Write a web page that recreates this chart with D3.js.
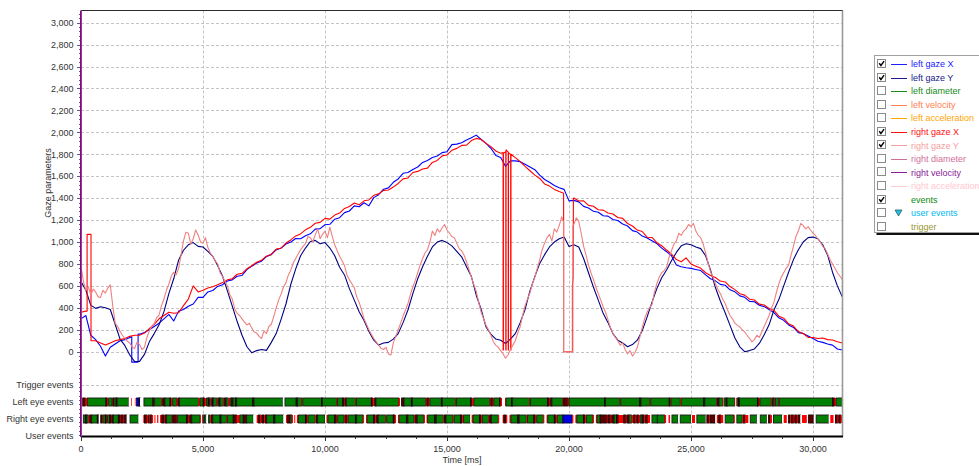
<!DOCTYPE html>
<html><head><meta charset="utf-8">
<script src="https://cdn.jsdelivr.net/npm/d3@7"></script>
<style>
body{margin:0;background:#fff;}
svg{display:block;}
text{font-family:"Liberation Sans",Arial,sans-serif;}
</style>
</head><body>
<svg id="c" width="979" height="466"></svg>
<script>
// ---------------- DATA ----------------
const STEP_MS = 200;      // sample spacing of the gaze X / left gaze Y arrays
const STEP_MS_RY = 100;   // sample spacing of the right gaze Y array
const timeMax = 31230;

const leftGazeX = [
 300,330,150,110,50,-40,40,70,100,110,
 130,140,160,175,200,230,260,300,340,280,
 370,385,415,435,495,495,545,558,595,610,
 645,655,688,695,748,780,808,825,868,885,
 928,945,982,1000,1032,1030,1058,1075,1118,1122,
 1158,1162,1208,1222,1268,1283,1330,1322,1358,1330,
 1405,1432,1482,1494,1545,1575,1627,1634,1662,1684,
 1726,1744,1771,1784,1815,1824,1888,1893,1906,1930,
 1950,1975,1935,1900,1855,1790,1770,1690,1740,1740,
 1733,1710,1685,1660,1610,1570,1545,1515,1495,1480,
 1375,1380,1366,1325,1311,1280,1271,1240,1236,1205,
 1196,1164,1146,1104,1091,1054,1036,1012,986,944,
 912,875,790,775,765,760,750,740,700,665,
 646,614,606,564,546,509,496,459,456,424,
 411,384,356,309,286,244,221,174,166,144,
 120,95,85,70,60,25,15
];
const leftGazeY = [
 640,560,425,395,410,400,385,250,115,55,
 -30,-90,-88,-25,90,165,245,365,530,665,
 835,925,975,995,960,955,915,870,785,690,
 555,415,275,150,45,-10,10,20,12,85,
 165,295,435,615,755,875,945,1005,1015,985,
 995,945,875,770,700,575,470,365,285,185,
 105,60,80,85,115,165,265,380,530,665,
 775,870,955,1000,1015,995,965,915,865,775,
 685,515,385,225,160,115,105,75,115,165,
 265,385,555,685,805,885,955,1000,1030,1045,
 960,975,955,850,720,590,470,350,265,165,
 105,80,45,65,105,190,315,450,575,675,
 745,830,905,965,985,975,955,940,875,745,
 585,465,355,240,125,45,0,10,25,75,
 155,245,380,475,600,725,840,930,1000,1040,
 1045,1030,975,880,725,600,500
];
const rightGazeX = [
 360,370,100,100,80,60,80,100,110,120,
 140,150,150,170,210,250,300,330,360,350,
 355,420,480,600,545,560,580,593,610,630,
 655,665,706,714,756,784,816,834,871,889,
 936,944,991,1019,1056,1074,1111,1134,1171,1179,
 1216,1209,1246,1264,1306,1324,1356,1339,1376,1384,
 1426,1439,1471,1474,1501,1534,1576,1584,1634,1644,
 1666,1674,1726,1744,1786,1794,1836,1854,1881,1884,
 1925,1945,1935,1900,1870,1830,1810,1820,1800,1770,
 1733,1690,1650,1610,1580,1530,1510,1480,1460,1440,
 1400,1401,1374,1376,1334,1326,1294,1291,1264,1256,
 1224,1216,1169,1146,1109,1096,1044,1042,994,966,
 927,890,840,820,855,800,780,760,720,695,
 676,644,636,594,566,529,516,479,471,434,
 426,394,376,324,306,254,234,184,166,131,
 130,120,125,110,107,90,80
];
const rightGazeY = [
 780,640,560,590,520,570,545,500,495,560,535,580,610,420,260,230,185,150,120,95,
 80,40,30,90,65,20,40,130,190,230,255,310,335,420,480,560,615,690,725,700,
 760,880,1010,1090,1080,980,1030,1110,1065,1000,990,1040,950,900,870,830,800,720,685,640,
 600,520,480,390,350,330,300,270,245,260,215,180,170,140,120,190,165,230,250,320,
 400,470,525,590,630,700,745,810,850,890,930,960,985,1050,1040,1000,1065,1120,1030,1070,
 1100,1040,1135,1050,975,920,870,830,785,700,655,620,585,500,450,380,300,250,200,160,
 120,90,60,30,20,40,-20,-30,80,140,200,260,325,380,440,520,590,650,720,790,
 850,900,930,1000,1100,1060,1120,1090,1130,1160,1110,1080,1050,1040,990,940,920,880,820,750,
 680,610,550,450,360,300,240,200,150,90,60,40,10,-20,-60,-30,20,60,100,170,
 230,330,420,480,535,620,680,760,840,930,990,1040,1070,1010,1120,1090,1150,1230,1150,1150,
 1000,1100,1160,1220,1190,1080,960,880,790,720,660,590,530,470,410,360,290,220,171,130,
 100,60,80,20,-20,10,-40,-10,40,130,220,300,360,400,430,540,620,680,720,740,
 770,860,920,980,1010,1080,1060,1100,1120,1160,1140,1170,1100,1060,1040,980,900,810,730,680,
 620,570,530,480,440,380,330,300,260,240,227,200,180,150,120,90,110,150,130,180,
 230,280,330,400,450,540,620,680,720,760,790,880,960,1050,1100,1170,1150,1120,1140,1110,
 1080,1060,1030,1000,960,940,890,840,800,760,720,690,660
];
// short excursions with vertical edges: lists of [time ms, value]
const leftGazeXGaps = [[[2080,135],[2080,-95],[2340,-95],[2340,160]]];
const leftGazeYGaps = [];
const rightGazeXGaps = [
 [[250,370],[250,1070],[410,1070],[410,100]],
 [[17300,1815],[17300,15],[17312,15],[17312,1810]],
 [[17410,1830],[17410,15],[17420,15],[17420,1840]],
 [[17510,1820],[17510,15],[17520,15],[17520,1815]],
 [[17610,1800],[17610,15],[17622,15],[17622,1800]],
 [[19780,1445],[19780,0],[20140,0],[20140,600],[20170,680],[20180,1400]]
];
const rightGazeYGaps = [[[19780,1180],[19780,0],[20160,0],[20160,1150]]];

const yTicks = [0,200,400,600,800,1000,1200,1400,1600,1800,2000,2200,2400,2600,2800,3000];
const xTicks = [0,5000,10000,15000,20000,25000,30000];
const eventRows = ["Trigger events","Left eye events","Right eye events","User events"];

// events: [start ms, type]  F fixation, S saccade, B blink, W no data, L lost
const leftEyeEvents = [[70,'B'],[180,'S'],[260,'F'],[1025,'B'],[1080,'S'],[1135,'F'],[1270,'S'],[1310,'B'],[1350,'F'],[1440,'B'],[1480,'F'],[1955,'W'],[2060,'S'],[2090,'W'],[2210,'S'],[2240,'W'],[2280,'L'],[2390,'B'],[2420,'W'],[2580,'F'],[2950,'B'],[2990,'S'],[3020,'F'],[3300,'S'],[3350,'B'],[3440,'F'],[3650,'B'],[3700,'S'],[3760,'F'],[3920,'S'],[3980,'B'],[4030,'F'],[4810,'S'],[4880,'F'],[5010,'B'],[5060,'S'],[5150,'F'],[5220,'B'],[5260,'F'],[5300,'S'],[5340,'F'],[5380,'B'],[5420,'F'],[5560,'S'],[5610,'F'],[5660,'B'],[5700,'F'],[5830,'S'],[5870,'B'],[5950,'F'],[6040,'S'],[6110,'F'],[6180,'B'],[6230,'F'],[6330,'B'],[6380,'F'],[7040,'B'],[7090,'F'],[8270,'W'],[8360,'F'],[8820,'B'],[8870,'F'],[9040,'S'],[9090,'F'],[9860,'B'],[9900,'F'],[10470,'S'],[10510,'F'],[10730,'B'],[10790,'S'],[10830,'B'],[10870,'F'],[11250,'S'],[11290,'F'],[11900,'B'],[11960,'S'],[12040,'B'],[12090,'F'],[13020,'S'],[13080,'W'],[13140,'B'],[13240,'F'],[13540,'B'],[13580,'F'],[14130,'S'],[14180,'B'],[14250,'S'],[14300,'F'],[14770,'B'],[14810,'F'],[15350,'S'],[15390,'F'],[15970,'B'],[16020,'S'],[16100,'F'],[16750,'S'],[16800,'B'],[16870,'S'],[16920,'F'],[17160,'B'],[17200,'S'],[17260,'W'],[17380,'S'],[17420,'F'],[17650,'B'],[17690,'F'],[18380,'S'],[18420,'F'],[19130,'B'],[19180,'S'],[19230,'B'],[19300,'F'],[19740,'S'],[19780,'B'],[19950,'S'],[20000,'F'],[21460,'B'],[21500,'F'],[22080,'S'],[22120,'F'],[22900,'B'],[22950,'F'],[23310,'S'],[23350,'F'],[24110,'B'],[24150,'S'],[24180,'F'],[24560,'S'],[24600,'F'],[25520,'B'],[25570,'F'],[26050,'S'],[26090,'B'],[26150,'F'],[26290,'S'],[26320,'W'],[26350,'F'],[26440,'B'],[26480,'F'],[26790,'S'],[26820,'W'],[26860,'S'],[26890,'F'],[26950,'B'],[26990,'F'],[27730,'B'],[27780,'S'],[27830,'F'],[28290,'S'],[28330,'B'],[28370,'F'],[28430,'S'],[28460,'F'],[28590,'S'],[28620,'F'],[30810,'B'],[30880,'S'],[30950,'F']];
const leftEyeEnd = 31200;
const rightEyeEvents = [[95,'F'],[180,'B'],[230,'F'],[300,'S'],[360,'B'],[440,'F'],[670,'B'],[725,'W'],[810,'B'],[860,'S'],[900,'F'],[1000,'B'],[1050,'S'],[1090,'F'],[1180,'B'],[1230,'S'],[1270,'B'],[1325,'F'],[1530,'B'],[1600,'S'],[1640,'B'],[1730,'S'],[1770,'B'],[1870,'W'],[2010,'F'],[2350,'W'],[2555,'S'],[2600,'B'],[2690,'S'],[2760,'B'],[2800,'S'],[2840,'B'],[2900,'S'],[2965,'W'],[3010,'S'],[3060,'W'],[3120,'S'],[3180,'W'],[3240,'S'],[3310,'B'],[3400,'S'],[3450,'B'],[3510,'F'],[3720,'S'],[3760,'B'],[3920,'S'],[3960,'F'],[4330,'B'],[4400,'S'],[4460,'B'],[4540,'F'],[4880,'S'],[4920,'W'],[4990,'F'],[5020,'S'],[5060,'F'],[5130,'W'],[5230,'F'],[5290,'S'],[5350,'B'],[5400,'F'],[5700,'B'],[5740,'F'],[5960,'S'],[6000,'F'],[6240,'B'],[6380,'S'],[6510,'F'],[6650,'B'],[6790,'F'],[7060,'W'],[7200,'S'],[7270,'B'],[7350,'S'],[7420,'B'],[7500,'S'],[7560,'B'],[7610,'F'],[7900,'B'],[7950,'F'],[8290,'W'],[8400,'S'],[8460,'B'],[8570,'F'],[8640,'S'],[8690,'W'],[8740,'S'],[8790,'W'],[8850,'S'],[8910,'F'],[9200,'B'],[9260,'S'],[9310,'F'],[9600,'S'],[9650,'B'],[9700,'F'],[10000,'W'],[10060,'S'],[10120,'F'],[10400,'B'],[10470,'S'],[10520,'F'],[10780,'S'],[10830,'B'],[10900,'S'],[10950,'F'],[11250,'B'],[11300,'F'],[11560,'S'],[11610,'W'],[11680,'S'],[11730,'F'],[12000,'B'],[12060,'S'],[12120,'B'],[12180,'F'],[12480,'S'],[12530,'F'],[12800,'B'],[12860,'S'],[12920,'W'],[12990,'S'],[13040,'F'],[13350,'B'],[13400,'F'],[13650,'S'],[13700,'B'],[13780,'F'],[14050,'S'],[14100,'W'],[14160,'S'],[14210,'F'],[14500,'B'],[14560,'F'],[14850,'S'],[14900,'B'],[14960,'F'],[15250,'S'],[15300,'F'],[15560,'B'],[15620,'S'],[15680,'F'],[15950,'W'],[16010,'S'],[16070,'F'],[16340,'B'],[16400,'S'],[16450,'F'],[16700,'S'],[16750,'B'],[16820,'F'],[17100,'S'],[17150,'W'],[17280,'S'],[17330,'B'],[17420,'S'],[17480,'W'],[17560,'S'],[17620,'F'],[17900,'B'],[17960,'F'],[18250,'S'],[18300,'F'],[18560,'B'],[18620,'S'],[18680,'F'],[18950,'S'],[19000,'W'],[19080,'S'],[19130,'F'],[19400,'B'],[19460,'S'],[19520,'F'],[19750,'L'],[20130,'S'],[20190,'W'],[20260,'S'],[20320,'F'],[20600,'B'],[20660,'S'],[20720,'F'],[20980,'S'],[21030,'W'],[21100,'S'],[21150,'F'],[21280,'B'],[21550,'S'],[21600,'B'],[21700,'S'],[21760,'B'],[21850,'F'],[21950,'B'],[22030,'S'],[22240,'B'],[22320,'S'],[22380,'B'],[22460,'F'],[22560,'S'],[22650,'B'],[22720,'S'],[22780,'B'],[22850,'S'],[22920,'F'],[23000,'B'],[23080,'S'],[23140,'B'],[23220,'S'],[23330,'W'],[23400,'F'],[23620,'F'],[23920,'S'],[23990,'W'],[24080,'S'],[24150,'W'],[24220,'F'],[24470,'W'],[24560,'F'],[25000,'W'],[25040,'S'],[25170,'W'],[25240,'F'],[25600,'W'],[25650,'B'],[25750,'S'],[25800,'B'],[25990,'W'],[26060,'S'],[26140,'B'],[26220,'S'],[26330,'W'],[26400,'F'],[26750,'S'],[26800,'W'],[26880,'F'],[27100,'S'],[27150,'B'],[27220,'S'],[27360,'W'],[27430,'F'],[27700,'W'],[27840,'F'],[28110,'W'],[28180,'B'],[28250,'S'],[28320,'W'],[28380,'F'],[28730,'W'],[28800,'S'],[28930,'W'],[29000,'B'],[29060,'S'],[29120,'B'],[29200,'S'],[29260,'B'],[29340,'S'],[29400,'B'],[29480,'W'],[29550,'S'],[29750,'W'],[29820,'B'],[30030,'W'],[30130,'F'],[30640,'W'],[30710,'S'],[30850,'W'],[30920,'B'],[31000,'S'],[31060,'B'],[31130,'S']];
const rightEyeEnd = 31190;

const legendLabels = ["left gaze X","left gaze Y","left diameter","left velocity","left acceleration","right gaze X","right gaze Y","right diameter","right velocity","right acceleration","events","user events","trigger"];
const legendChecked = [1,1,0,0,0,1,1,0,0,0,1,0,0];
const legendColors = ["#2020ff","#1a1a8a","#1a8a1a","#ff7f50","#ffa500","#ff1010","#f4a0a0","#d0709a","#8a1a9a","#ffc8d0","#108a10","#00b8f0","#999933"];
const legendMarker = ["line","line","line","line","line","line","line","line","line","line","none","tri","none"];

// ---------------- DRAW ----------------
const svg = d3.select("#c");
const L = 81, R = 843, T = 10.5, B = 436.5;
const x = d3.scaleLinear().domain([0, timeMax]).range([L, R]);
const y = d3.scaleLinear().domain([0, 3000]).range([351.7, 22.7]);
const rowY = d3.scalePoint().domain(eventRows).range([385, 436]);

svg.append("rect").attr("width",979).attr("height",466).attr("fill","#fff");

// grid
const grid = svg.append("g").attr("stroke","#c4c4c4").attr("stroke-dasharray","3,2").attr("stroke-width",1);
yTicks.forEach(v => grid.append("line").attr("x1",L).attr("x2",R).attr("y1",Math.round(y(v))+0.5).attr("y2",Math.round(y(v))+0.5));
grid.append("line").attr("x1",L).attr("x2",R).attr("y1",rowY("Trigger events")+0.5).attr("y2",rowY("Trigger events")+0.5);
xTicks.slice(1).forEach(t => grid.append("line").attr("x1",Math.round(x(t))+0.5).attr("x2",Math.round(x(t))+0.5).attr("y1",T).attr("y2",B));

// series lines
function toPoints(values, groups, step){
  const ranges = groups.map(g => [g[0][0], g[g.length-1][0]]);
  const pts = values.map((v,i)=>[i*step, v]).filter(p => !ranges.some(r => p[0]>=r[0] && p[0]<=r[1]));
  groups.forEach(g => g.forEach(p => pts.push(p)));
  return pts.sort((a,b)=>a[0]-b[0]);
}
svg.append("clipPath").attr("id","pc").append("rect").attr("x",L).attr("y",T).attr("width",R-L).attr("height",B-T);
const lineGen = d3.line().x(d=>x(d[0])).y(d=>y(d[1]));
const series = [
  {vals:leftGazeX, gaps:leftGazeXGaps, step:STEP_MS, color:"#0000ff"},
  {vals:leftGazeY, gaps:leftGazeYGaps, step:STEP_MS, color:"#000080"},
  {vals:rightGazeX, gaps:rightGazeXGaps, step:STEP_MS, color:"#ff0000"},
  {vals:rightGazeY, gaps:rightGazeYGaps, step:STEP_MS_RY, color:"#f08080"}
];
const lg = svg.append("g").attr("clip-path","url(#pc)");
series.forEach(s => lg.append("path").attr("d", lineGen(toPoints(s.vals, s.gaps, s.step)))
  .attr("fill","none").attr("stroke",s.color).attr("stroke-width",1.1).attr("stroke-linejoin","round"));

// events
const evFill = {F:"#008000", S:"#ff0000", B:"#5a0000", W:"#ffffff", L:"#0000e0"};
const evStroke = {F:"#1a1a1a", S:"none", B:"#1a0000", W:"none", L:"#000040"};
function drawEvents(list, end, row){
  const g = svg.append("g");
  const cy = rowY(row);
  list.forEach((e,i) => {
    const t0 = e[0], t1 = i < list.length-1 ? list[i+1][0] : end;
    const x0 = x(t0), x1 = x(t1);
    g.append("rect").attr("x",x0).attr("y",cy-4).attr("width",Math.max(0.8,x1-x0)).attr("height",8)
      .attr("fill",evFill[e[1]]).attr("stroke",evStroke[e[1]]).attr("stroke-width",0.9);
  });
}
drawEvents(leftEyeEvents, leftEyeEnd, "Left eye events");
drawEvents(rightEyeEvents, rightEyeEnd, "Right eye events");

// borders
svg.append("line").attr("x1",L).attr("x2",R).attr("y1",T).attr("y2",T).attr("stroke","#2a2a2a").attr("stroke-width",1);
svg.append("line").attr("x1",R-0.5).attr("x2",R-0.5).attr("y1",T).attr("y2",B).attr("stroke","#9a9a9a").attr("stroke-width",1.6);
svg.append("line").attr("x1",L).attr("x2",R).attr("y1",B).attr("y2",B).attr("stroke","#000").attr("stroke-width",2);

// y axis ticks
const yt = svg.append("g");
d3.range(-760, 3100, 40).forEach(v => {
  const major = v>=0 && v%200===0 && v<=3000;
  const yy = Math.round(y(v))+0.5;
  yt.append("line").attr("x1",L-(major?4:2)).attr("x2",L).attr("y1",yy).attr("y2",yy).attr("stroke","#5a5a8a").attr("stroke-width",1);
});
yTicks.forEach(v => yt.append("text").attr("x",73.5).attr("y",y(v)+3.2).attr("text-anchor","end")
  .attr("font-size",9).attr("fill","#333").text(d3.format(",")(v)));
eventRows.forEach(r => yt.append("text").attr("x",73.5).attr("y",rowY(r)+3.2).attr("text-anchor","end")
  .attr("font-size",9).attr("fill","#333").text(r));
svg.append("text").attr("transform","translate(50.5,183) rotate(-90)").attr("text-anchor","middle")
  .attr("font-size",9).attr("fill","#333").text("Gaze parameters");

// y axis line (blue + red)
svg.append("line").attr("x1",80.5).attr("x2",80.5).attr("y1",T).attr("y2",B+0.5).attr("stroke","#2020ff").attr("stroke-width",1);
svg.append("line").attr("x1",81.5).attr("x2",81.5).attr("y1",T).attr("y2",B+0.5).attr("stroke","#ff2020").attr("stroke-width",1);

// x axis
const xa = svg.append("g");
d3.range(0, timeMax, 1250).forEach(t => {
  const major = t % 5000 === 0;
  const xx = Math.round(x(t))+0.5;
  xa.append("line").attr("x1",xx).attr("x2",xx).attr("y1",B).attr("y2",B+(major?4.5:2.5)).attr("stroke","#333");
});
xTicks.forEach(t => xa.append("text").attr("x",x(t)).attr("y",452).attr("text-anchor","middle")
  .attr("font-size",9).attr("fill","#333").text(d3.format(",")(t)));
svg.append("text").attr("x",(L+R)/2).attr("y",462.5).attr("text-anchor","middle").attr("font-size",9).attr("fill","#333").text("Time [ms]");

// legend
const lgd = svg.append("g");
lgd.append("rect").attr("x",876.5).attr("y",57.5).attr("width",120).attr("height",177.5).attr("fill","#111");
lgd.append("rect").attr("x",874.5).attr("y",55.5).attr("width",120).attr("height",177).attr("fill","#fff").attr("stroke","#a0a0a0");
legendLabels.forEach((lab,i) => {
  const cy = 64 + i*13.55;
  lgd.append("rect").attr("x",877.5).attr("y",Math.round(cy)-4.5).attr("width",8).attr("height",8)
    .attr("fill","#fff").attr("stroke","#8a8a8a");
  if (legendChecked[i]) {
    const bx = 877.5, by = Math.round(cy)-4.5;
    lgd.append("path").attr("d",`M${bx+1.7},${by+3.8}L${bx+3.4},${by+6}L${bx+6.6},${by+1.6}`)
      .attr("fill","none").attr("stroke","#000").attr("stroke-width",1.4);
  }
  if (legendMarker[i]==="line") {
    lgd.append("line").attr("x1",891).attr("x2",907).attr("y1",Math.round(cy)+0.5).attr("y2",Math.round(cy)+0.5)
      .attr("stroke",legendColors[i]).attr("stroke-width",1);
  } else if (legendMarker[i]==="tri") {
    const tx = 898.5, ty = Math.round(cy);
    lgd.append("path").attr("d",`M${tx-3.5},${ty-3}L${tx+3.5},${ty-3}L${tx},${ty+3}Z`)
      .attr("fill","#20c0e8").attr("stroke","#306060").attr("stroke-width",0.8);
  }
  lgd.append("text").attr("x",911).attr("y",cy+3.2).attr("font-size",9).attr("fill",legendColors[i]).text(lab);
});
</script>
</body></html>
